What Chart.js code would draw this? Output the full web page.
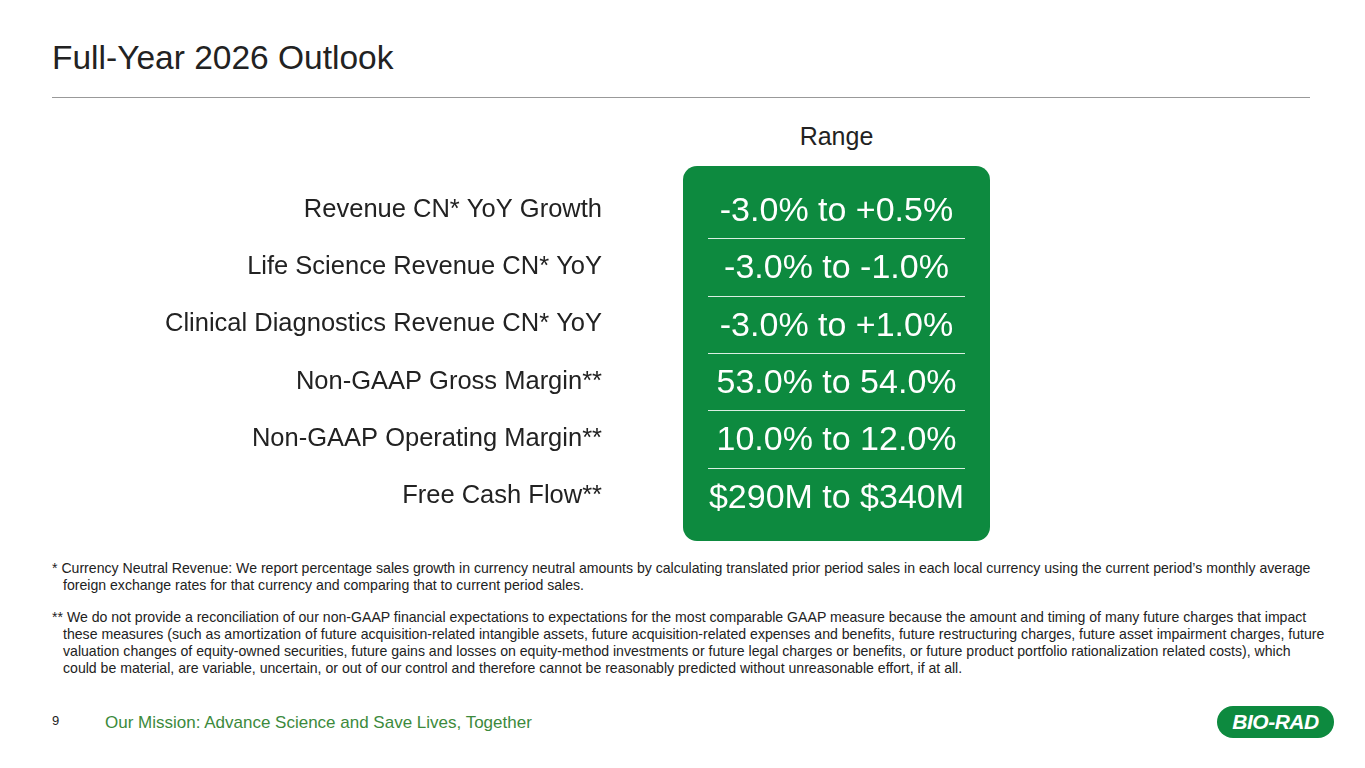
<!DOCTYPE html>
<html><head><meta charset="utf-8">
<script src="https://cdn.jsdelivr.net/npm/chart.js@4"></script>
<style>
body{margin:0;width:1365px;height:768px;background:#fff;font-family:"Liberation Sans",Arial,sans-serif;position:relative;overflow:hidden;color:#222}
#title{position:absolute;left:52px;top:39px;font-size:33.5px;color:#222}
#rule{position:absolute;left:52px;top:97px;width:1258px;height:1px;background:#999}
#range{position:absolute;left:683px;width:307px;top:122px;text-align:center;font-size:25px}
#wrap{position:absolute;left:0;top:161px;width:1365px;height:384px}
.fn{position:absolute;left:52px;width:1264px;font-size:14.1px;line-height:17px;color:#222;padding-left:11px;text-indent:-11px}
#pg{position:absolute;left:52px;top:713px;font-size:13px}
#mis{position:absolute;left:105px;top:713px;font-size:17px;color:#3c8a3c}
#logo{position:absolute;left:1217px;top:706px;width:117px;height:32px;border-radius:16px;background:#0d8a3f;color:#fff;font:italic bold 21px "Liberation Sans",Arial;text-align:center;line-height:32px;letter-spacing:-0.5px}
</style></head><body>
<div id="title">Full-Year 2026 Outlook</div>
<div id="rule"></div>
<div id="range">Range</div>
<div id="wrap"><canvas id="c"></canvas></div>
<div class="fn" style="top:560px">* Currency Neutral Revenue: We report percentage sales growth in currency neutral amounts by calculating translated prior period sales in each local currency using the current period’s monthly average foreign exchange rates for that currency and comparing that to current period sales.</div>
<div class="fn" style="top:609px">** We do not provide a reconciliation of our non-GAAP financial expectations to expectations for the most comparable GAAP measure because the amount and timing of many future charges that impact these measures (such as amortization of future acquisition-related intangible assets, future acquisition-related expenses and benefits, future restructuring charges, future asset impairment charges, future valuation changes of equity-owned securities, future gains and losses on equity-method investments or future legal charges or benefits, or future product portfolio rationalization related costs), which could be material, are variable, uncertain, or out of our control and therefore cannot be reasonably predicted without unreasonable effort, if at all.</div>
<div id="pg">9</div>
<div id="mis">Our Mission: Advance Science and Save Lives, Together</div>
<div id="logo">BIO-RAD</div>
<script>
"use strict";

const metrics = ["Revenue CN* YoY Growth", "Life Science Revenue CN* YoY", "Clinical Diagnostics Revenue CN* YoY",
    "Non-GAAP Gross Margin**", "Non-GAAP Operating Margin**", "Free Cash Flow**"];
const ranges = ["-3.0% to +0.5%", "-3.0% to -1.0%", "-3.0% to +1.0%", "53.0% to 54.0%", "10.0% to 12.0%", "$290M to $340M"];
const green = "#0d8a3f";

// green panel + range text drawn against the category scale
const panel = {
    id: "panel",
    beforeDatasetsDraw(chart) {
        const {ctx, scales: {y}} = chart;
        const x0 = 683, x1 = 990;
        const step = y.getPixelForValue(1) - y.getPixelForValue(0);
        const top = y.getPixelForValue(0) - step / 2 - 15;
        const bot = y.getPixelForValue(metrics.length - 1) + step / 2 + 16;
        ctx.save();
        ctx.fillStyle = green;
        ctx.beginPath();
        ctx.roundRect(x0, top, x1 - x0, bot - top, 14);
        ctx.fill();
        ctx.strokeStyle = "rgba(255,255,255,0.85)";
        ctx.lineWidth = 1;
        for (let i = 0; i < metrics.length - 1; i++) {
            const yy = Math.round(y.getPixelForValue(i) + step / 2) + 0.5;
            ctx.beginPath(); ctx.moveTo(708, yy); ctx.lineTo(965, yy); ctx.stroke();
        }
        ctx.fillStyle = "#fff";
        ctx.font = '34px "Liberation Sans", Arial';
        ctx.textAlign = "center";
        ctx.textBaseline = "middle";
        ranges.forEach((r, i) => ctx.fillText(r, (x0 + x1) / 2, y.getPixelForValue(i) + 2));
        ctx.restore();
    }
};

new Chart(document.getElementById("c"), {
    type: "bar",
    data: {labels: metrics, datasets: [{data: metrics.map(() => 0), backgroundColor: green}]},
    options: {
        indexAxis: "y",
        responsive: true,
        maintainAspectRatio: false,
        animation: false,
        layout: {padding: {top: 20, bottom: 20}},
        plugins: {legend: {display: false}, tooltip: {enabled: false}},
        scales: {
            x: {display: false, min: 0, max: 1},
            y: {
                border: {display: false},
                grid: {display: false},
                afterFit(s) { s.width = 610; },
                ticks: {padding: 0, color: "#222", font: {size: 25.5, family: '"Liberation Sans", Arial'}}
            }
        }
    },
    plugins: [panel]
});
</script>
</body></html>
